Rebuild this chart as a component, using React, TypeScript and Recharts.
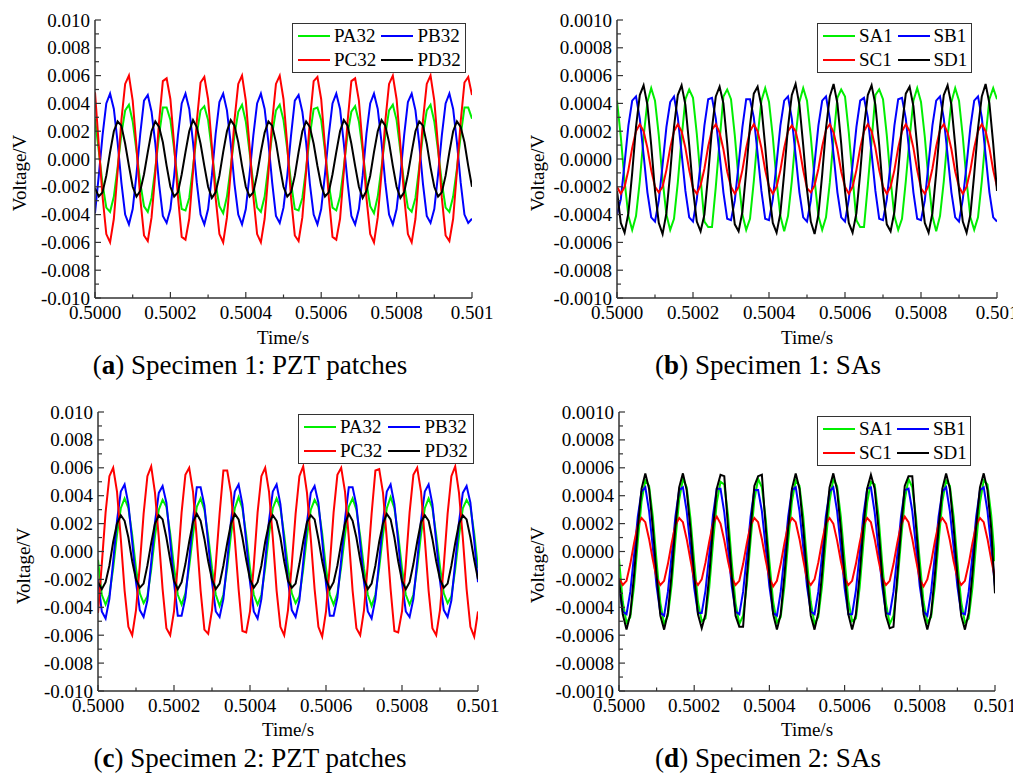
// Four-panel voltage response figure: PZT patches and smart aggregates (SAs)
// for two specimens, 0.5000–0.501 s window. Each panel is its own LineChart;
// axis titles and sub-captions are plain positioned text.

import { Legend, Line, LineChart, XAxis, YAxis } from "recharts";

const FONT = '"Liberation Serif", "Times New Roman", serif';
const AXIS = "#333";

// Sampling of the recorded signals (100 kHz, 101 samples in the window).
const SAMPLE_T0 = 0.5;
const SAMPLE_DT = 0.00001;

// ---- Specimen 1, PZT patches (values in mV) ----
const S1_PA32 = [
  2.9, 0.6, -1.8, -3.5, -3.8, -2.7, -0.6, 1.8, 3.5, 3.9,
  2.7, 0.6, -1.7, -3.4, -3.8, -2.8, -0.7, 1.7, 3.7, 3.7,
  2.8, 0.7, -1.7, -3.6, -3.7, -2.8, -0.6, 1.8, 3.5, 3.8,
  2.8, 0.6, -1.8, -3.4, -3.9, -2.7, -0.6, 1.7, 3.4, 3.9,
  2.7, 0.5, -1.8, -3.5, -3.8, -2.7, -0.5, 1.8, 3.5, 3.9,
  2.8, 0.7, -1.7, -3.6, -3.7, -2.8, -0.7, 1.7, 3.6, 3.7,
  2.8, 0.6, -1.8, -3.5, -3.7, -2.7, -0.6, 1.8, 3.4, 3.8,
  2.7, 0.6, -1.7, -3.4, -3.9, -2.7, -0.6, 1.7, 3.5, 3.9,
  2.8, 0.6, -1.8, -3.5, -3.8, -2.8, -0.6, 1.8, 3.5, 3.9,
  2.7, 0.6, -1.7, -3.5, -3.8, -2.7, -0.7, 1.7, 3.7, 3.7,
  2.9,
];
const S1_PB32 = [
  -3.9, -1.2, 1.7, 4.0, 4.7, 3.6, 1.2, -1.7, -4.0, -4.7,
  -3.6, -1.1, 1.8, 4.2, 4.6, 3.4, 1.1, -1.8, -4.1, -4.6,
  -3.6, -1.2, 1.7, 4.0, 4.7, 3.6, 1.2, -1.7, -4.0, -4.7,
  -3.6, -1.2, 1.8, 4.1, 4.7, 3.5, 1.1, -1.8, -4.0, -4.7,
  -3.6, -1.1, 1.7, 4.0, 4.7, 3.6, 1.2, -1.7, -4.1, -4.6,
  -3.5, -1.2, 1.7, 4.2, 4.6, 3.4, 1.2, -1.8, -4.0, -4.7,
  -3.6, -1.1, 1.7, 4.0, 4.7, 3.6, 1.1, -1.7, -4.1, -4.7,
  -3.6, -1.2, 1.8, 4.0, 4.7, 3.6, 1.2, -1.7, -4.0, -4.7,
  -3.6, -1.2, 1.7, 4.1, 4.7, 3.5, 1.1, -1.8, -4.1, -4.6,
  -3.6, -1.1, 1.7, 4.0, 4.7, 3.6, 1.2, -1.7, -4.0, -4.6,
  -4.3,
];
const S1_PC32 = [
  4.8, 1.0, -2.7, -5.4, -6.0, -4.3, -0.9, 2.8, 5.4, 6.0,
  4.2, 0.9, -2.8, -5.5, -5.9, -4.2, -1.0, 2.7, 5.6, 5.8,
  4.3, 1.0, -2.7, -5.6, -5.8, -4.3, -0.9, 2.7, 5.5, 5.9,
  4.3, 0.9, -2.8, -5.4, -6.0, -4.2, -0.9, 2.8, 5.4, 6.0,
  4.2, 0.9, -2.7, -5.4, -6.0, -4.3, -1.0, 2.7, 5.4, 6.0,
  4.3, 1.0, -2.8, -5.5, -5.9, -4.2, -0.9, 2.8, 5.6, 5.9,
  4.3, 0.9, -2.7, -5.6, -5.8, -4.3, -0.9, 2.7, 5.6, 5.8,
  4.2, 0.9, -2.8, -5.4, -6.0, -4.2, -1.0, 2.7, 5.4, 6.0,
  4.3, 1.0, -2.7, -5.4, -6.0, -4.3, -0.9, 2.8, 5.4, 6.0,
  4.2, 0.9, -2.8, -5.5, -5.9, -4.3, -0.9, 2.7, 5.5, 5.9,
  4.6,
];
const S1_PD32 = [
  -2.1, -2.7, -2.4, -1.2, 0.5, 2.0, 2.7, 2.4, 1.1, -0.5,
  -2.0, -2.7, -2.3, -1.1, 0.5, 2.0, 2.7, 2.3, 1.2, -0.5,
  -2.0, -2.7, -2.4, -1.1, 0.5, 2.0, 2.8, 2.3, 1.1, -0.5,
  -2.0, -2.8, -2.4, -1.2, 0.5, 2.0, 2.8, 2.4, 1.2, -0.5,
  -2.0, -2.7, -2.4, -1.1, 0.5, 1.9, 2.7, 2.4, 1.2, -0.5,
  -2.0, -2.7, -2.4, -1.2, 0.5, 2.0, 2.7, 2.3, 1.1, -0.5,
  -1.9, -2.7, -2.4, -1.1, 0.5, 2.0, 2.8, 2.4, 1.1, -0.5,
  -2.0, -2.8, -2.3, -1.2, 0.5, 2.0, 2.8, 2.4, 1.2, -0.5,
  -2.0, -2.8, -2.4, -1.1, 0.5, 2.0, 2.7, 2.4, 1.1, -0.6,
  -2.0, -2.7, -2.4, -1.2, 0.5, 2.0, 2.7, 2.3, 1.2, -0.5,
  -2.0,
];

// ---- Specimen 1, SAs (mV) ----
const S1_SA1 = [
  0.42, 0.16, -0.16, -0.41, -0.51, -0.41, -0.16, 0.16, 0.41, 0.51,
  0.42, 0.17, -0.15, -0.40, -0.51, -0.43, -0.17, 0.15, 0.43, 0.50,
  0.44, 0.18, -0.14, -0.45, -0.49, -0.49, -0.20, 0.13, 0.45, 0.50,
  0.43, 0.17, -0.15, -0.40, -0.51, -0.43, -0.16, 0.16, 0.42, 0.51,
  0.41, 0.16, -0.16, -0.41, -0.52, -0.41, -0.16, 0.16, 0.41, 0.51,
  0.42, 0.16, -0.15, -0.41, -0.51, -0.42, -0.17, 0.15, 0.44, 0.50,
  0.45, 0.19, -0.13, -0.44, -0.49, -0.49, -0.19, 0.13, 0.46, 0.50,
  0.43, 0.17, -0.15, -0.41, -0.51, -0.43, -0.16, 0.15, 0.42, 0.51,
  0.41, 0.16, -0.16, -0.41, -0.52, -0.41, -0.16, 0.16, 0.41, 0.51,
  0.42, 0.16, -0.16, -0.42, -0.51, -0.42, -0.16, 0.16, 0.43, 0.51,
  0.43,
];
const S1_SB1 = [
  -0.40, -0.29, -0.03, 0.24, 0.42, 0.45, 0.29, 0.03, -0.24, -0.42,
  -0.45, -0.30, -0.04, 0.23, 0.41, 0.45, 0.30, 0.04, -0.23, -0.42,
  -0.45, -0.29, -0.03, 0.24, 0.43, 0.44, 0.29, 0.03, -0.24, -0.43,
  -0.44, -0.30, -0.04, 0.23, 0.43, 0.43, 0.30, 0.04, -0.23, -0.43,
  -0.44, -0.29, -0.03, 0.24, 0.42, 0.45, 0.29, 0.03, -0.24, -0.42,
  -0.45, -0.30, -0.03, 0.24, 0.42, 0.45, 0.29, 0.03, -0.24, -0.42,
  -0.45, -0.29, -0.04, 0.23, 0.42, 0.44, 0.30, 0.04, -0.23, -0.43,
  -0.44, -0.29, -0.03, 0.24, 0.43, 0.44, 0.29, 0.03, -0.24, -0.43,
  -0.44, -0.30, -0.03, 0.24, 0.42, 0.45, 0.29, 0.03, -0.24, -0.42,
  -0.45, -0.29, -0.04, 0.23, 0.42, 0.45, 0.30, 0.03, -0.24, -0.42,
  -0.45,
];
const S1_SC1 = [
  -0.20, -0.25, -0.20, -0.08, 0.08, 0.20, 0.25, 0.20, 0.08, -0.08,
  -0.20, -0.24, -0.20, -0.08, 0.08, 0.20, 0.25, 0.20, 0.08, -0.08,
  -0.21, -0.25, -0.19, -0.07, 0.09, 0.21, 0.25, 0.19, 0.07, -0.09,
  -0.20, -0.25, -0.20, -0.08, 0.08, 0.20, 0.25, 0.20, 0.08, -0.08,
  -0.20, -0.25, -0.20, -0.08, 0.08, 0.20, 0.24, 0.20, 0.08, -0.08,
  -0.21, -0.24, -0.19, -0.07, 0.09, 0.21, 0.25, 0.19, 0.07, -0.09,
  -0.20, -0.25, -0.20, -0.08, 0.08, 0.20, 0.25, 0.20, 0.08, -0.08,
  -0.20, -0.25, -0.20, -0.08, 0.08, 0.20, 0.25, 0.20, 0.08, -0.08,
  -0.21, -0.25, -0.19, -0.07, 0.09, 0.21, 0.25, 0.19, 0.07, -0.09,
  -0.20, -0.25, -0.20, -0.08, 0.08, 0.20, 0.25, 0.20, 0.08, -0.08,
  -0.20,
];
const S1_SD1 = [
  -0.23, -0.46, -0.53, -0.39, -0.10, 0.23, 0.46, 0.53, 0.39, 0.10,
  -0.23, -0.46, -0.54, -0.39, -0.10, 0.23, 0.46, 0.53, 0.39, 0.10,
  -0.22, -0.45, -0.52, -0.40, -0.11, 0.22, 0.45, 0.52, 0.40, 0.11,
  -0.24, -0.47, -0.52, -0.38, -0.09, 0.24, 0.47, 0.52, 0.38, 0.09,
  -0.23, -0.46, -0.53, -0.39, -0.10, 0.23, 0.46, 0.54, 0.39, 0.10,
  -0.22, -0.45, -0.54, -0.40, -0.11, 0.22, 0.45, 0.54, 0.40, 0.11,
  -0.23, -0.46, -0.53, -0.39, -0.10, 0.23, 0.46, 0.53, 0.39, 0.10,
  -0.24, -0.47, -0.52, -0.38, -0.09, 0.24, 0.47, 0.52, 0.38, 0.09,
  -0.23, -0.46, -0.53, -0.39, -0.10, 0.23, 0.46, 0.53, 0.39, 0.10,
  -0.22, -0.45, -0.53, -0.40, -0.11, 0.22, 0.45, 0.54, 0.40, 0.11,
  -0.23,
];

// ---- Specimen 2, PZT patches (mV) ----
const S2_PA32 = [
  -0.6, -3.1, -3.8, -3.1, -1.2, 1.2, 3.1, 3.8, 3.1, 1.2,
  -1.2, -3.0, -3.7, -3.2, -1.3, 1.1, 3.0, 3.7, 3.2, 1.3,
  -1.1, -3.1, -3.8, -3.0, -1.1, 1.2, 3.2, 3.8, 3.0, 1.1,
  -1.2, -3.1, -3.9, -3.1, -1.2, 1.2, 3.1, 3.9, 3.1, 1.2,
  -1.2, -3.1, -3.8, -3.1, -1.2, 1.2, 3.1, 3.8, 3.1, 1.2,
  -1.1, -3.0, -3.7, -3.2, -1.3, 1.1, 3.0, 3.7, 3.2, 1.3,
  -1.2, -3.1, -3.8, -3.0, -1.1, 1.2, 3.2, 3.8, 3.0, 1.1,
  -1.2, -3.1, -3.9, -3.1, -1.2, 1.2, 3.1, 3.9, 3.1, 1.2,
  -1.2, -3.1, -3.8, -3.1, -1.2, 1.2, 3.1, 3.8, 3.1, 1.2,
  -1.1, -3.0, -3.7, -3.2, -1.3, 1.1, 3.1, 3.7, 3.2, 1.3,
  -1.2,
];
const S2_PB32 = [
  -2.0, -4.3, -4.8, -3.4, -0.7, 2.2, 4.3, 4.8, 3.4, 0.7,
  -2.2, -4.2, -4.7, -3.5, -0.8, 2.1, 4.2, 4.7, 3.5, 0.8,
  -2.2, -4.6, -4.6, -3.3, -0.6, 2.3, 4.6, 4.6, 3.3, 0.6,
  -2.2, -4.3, -4.7, -3.4, -0.7, 2.2, 4.3, 4.8, 3.4, 0.7,
  -2.2, -4.3, -4.8, -3.4, -0.7, 2.2, 4.3, 4.8, 3.4, 0.7,
  -2.1, -4.2, -4.7, -3.5, -0.8, 2.1, 4.2, 4.7, 3.5, 0.8,
  -2.3, -4.6, -4.6, -3.3, -0.6, 2.3, 4.6, 4.6, 3.3, 0.6,
  -2.2, -4.3, -4.8, -3.4, -0.7, 2.2, 4.3, 4.8, 3.4, 0.7,
  -2.2, -4.3, -4.7, -3.4, -0.7, 2.2, 4.3, 4.8, 3.4, 0.7,
  -2.1, -4.2, -4.7, -3.5, -0.8, 2.1, 4.2, 4.7, 3.5, 0.8,
  -2.2,
];
const S2_PC32 = [
  -4.4, -0.9, 2.8, 5.4, 6.0, 4.3, 0.9, -2.8, -5.4, -6.0,
  -4.2, -1.0, 2.7, 5.4, 6.1, 4.2, 1.0, -2.7, -5.5, -6.0,
  -4.3, -0.9, 2.8, 5.5, 6.0, 4.3, 0.9, -2.8, -5.6, -5.9,
  -4.2, -0.9, 2.7, 5.8, 5.8, 4.2, 0.9, -2.7, -5.7, -5.8,
  -4.3, -1.0, 2.8, 5.4, 6.0, 4.3, 1.0, -2.8, -5.4, -6.0,
  -4.2, -0.9, 2.7, 5.4, 6.1, 4.2, 0.9, -2.7, -5.4, -6.1,
  -4.3, -1.0, 2.8, 5.5, 6.0, 4.3, 1.0, -2.8, -5.5, -6.0,
  -4.2, -0.9, 2.7, 5.8, 5.9, 4.2, 0.9, -2.7, -5.7, -5.8,
  -4.3, -0.9, 2.8, 5.5, 6.0, 4.3, 0.9, -2.8, -5.5, -6.0,
  -4.2, -1.0, 2.7, 5.4, 6.1, 4.2, 1.0, -2.7, -5.4, -6.1,
  -4.3,
];
const S2_PD32 = [
  -2.2, -2.7, -2.2, -1.0, 0.7, 2.0, 2.6, 2.2, 1.0, -0.7,
  -2.0, -2.6, -2.3, -1.0, 0.6, 2.0, 2.6, 2.3, 1.0, -0.6,
  -2.1, -2.7, -2.2, -0.9, 0.7, 2.1, 2.7, 2.2, 0.9, -0.7,
  -2.0, -2.7, -2.3, -1.0, 0.6, 2.0, 2.7, 2.3, 1.0, -0.6,
  -2.0, -2.6, -2.2, -1.0, 0.7, 2.0, 2.6, 2.2, 1.0, -0.7,
  -2.1, -2.6, -2.3, -0.9, 0.7, 2.1, 2.6, 2.3, 0.9, -0.7,
  -2.0, -2.7, -2.2, -1.0, 0.6, 2.0, 2.7, 2.2, 1.0, -0.6,
  -2.0, -2.7, -2.3, -1.0, 0.7, 2.0, 2.7, 2.3, 1.0, -0.7,
  -2.1, -2.7, -2.2, -0.9, 0.7, 2.1, 2.6, 2.2, 0.9, -0.7,
  -2.0, -2.6, -2.3, -1.0, 0.6, 2.0, 2.6, 2.3, 1.0, -0.6,
  -2.0,
];

// ---- Specimen 2, SAs (mV) ----
const S2_SA1 = [
  -0.05, -0.36, -0.51, -0.47, -0.25, 0.07, 0.36, 0.51, 0.47, 0.25,
  -0.07, -0.37, -0.52, -0.46, -0.24, 0.08, 0.37, 0.52, 0.46, 0.24,
  -0.07, -0.36, -0.50, -0.48, -0.26, 0.06, 0.35, 0.50, 0.48, 0.26,
  -0.08, -0.37, -0.52, -0.46, -0.24, 0.08, 0.37, 0.52, 0.46, 0.24,
  -0.07, -0.36, -0.51, -0.47, -0.25, 0.07, 0.36, 0.51, 0.47, 0.25,
  -0.07, -0.36, -0.52, -0.47, -0.25, 0.07, 0.36, 0.52, 0.47, 0.25,
  -0.06, -0.35, -0.50, -0.48, -0.26, 0.06, 0.35, 0.50, 0.48, 0.26,
  -0.08, -0.37, -0.52, -0.46, -0.24, 0.08, 0.37, 0.52, 0.46, 0.24,
  -0.07, -0.36, -0.51, -0.47, -0.25, 0.07, 0.36, 0.51, 0.47, 0.25,
  -0.07, -0.36, -0.51, -0.48, -0.26, 0.06, 0.35, 0.51, 0.48, 0.26,
  -0.07,
];
const S2_SB1 = [
  -0.25, -0.43, -0.45, -0.29, -0.03, 0.25, 0.43, 0.46, 0.29, 0.03,
  -0.25, -0.44, -0.46, -0.29, -0.03, 0.25, 0.44, 0.46, 0.29, 0.03,
  -0.26, -0.44, -0.44, -0.28, -0.02, 0.26, 0.45, 0.45, 0.28, 0.02,
  -0.25, -0.43, -0.45, -0.29, -0.03, 0.25, 0.44, 0.44, 0.29, 0.03,
  -0.25, -0.44, -0.46, -0.29, -0.03, 0.25, 0.44, 0.46, 0.29, 0.03,
  -0.25, -0.43, -0.45, -0.29, -0.03, 0.25, 0.43, 0.46, 0.29, 0.03,
  -0.26, -0.45, -0.45, -0.28, -0.02, 0.26, 0.45, 0.46, 0.28, 0.02,
  -0.25, -0.44, -0.45, -0.29, -0.03, 0.25, 0.44, 0.45, 0.29, 0.03,
  -0.25, -0.43, -0.46, -0.29, -0.03, 0.25, 0.43, 0.46, 0.29, 0.03,
  -0.25, -0.44, -0.45, -0.29, -0.03, 0.25, 0.44, 0.46, 0.29, 0.03,
  -0.25,
];
const S2_SC1 = [
  -0.19, -0.24, -0.21, -0.09, 0.06, 0.19, 0.24, 0.21, 0.09, -0.06,
  -0.19, -0.24, -0.21, -0.09, 0.06, 0.19, 0.24, 0.21, 0.09, -0.06,
  -0.20, -0.24, -0.20, -0.08, 0.07, 0.20, 0.25, 0.20, 0.08, -0.07,
  -0.19, -0.24, -0.21, -0.09, 0.06, 0.19, 0.24, 0.21, 0.09, -0.06,
  -0.19, -0.25, -0.21, -0.09, 0.06, 0.19, 0.24, 0.21, 0.09, -0.06,
  -0.20, -0.24, -0.20, -0.08, 0.07, 0.20, 0.24, 0.20, 0.08, -0.07,
  -0.19, -0.24, -0.21, -0.09, 0.06, 0.19, 0.24, 0.21, 0.09, -0.06,
  -0.19, -0.24, -0.21, -0.09, 0.06, 0.19, 0.25, 0.21, 0.09, -0.06,
  -0.20, -0.25, -0.20, -0.08, 0.07, 0.20, 0.24, 0.20, 0.08, -0.07,
  -0.19, -0.24, -0.21, -0.09, 0.06, 0.19, 0.24, 0.21, 0.09, -0.06,
  -0.19,
];
const S2_SD1 = [
  -0.20, -0.45, -0.56, -0.45, -0.17, 0.17, 0.45, 0.56, 0.45, 0.17,
  -0.17, -0.46, -0.56, -0.44, -0.16, 0.18, 0.46, 0.56, 0.44, 0.16,
  -0.17, -0.45, -0.55, -0.45, -0.17, 0.17, 0.45, 0.55, 0.54, 0.17,
  -0.18, -0.46, -0.54, -0.54, -0.18, 0.16, 0.47, 0.54, 0.55, 0.18,
  -0.17, -0.45, -0.56, -0.45, -0.17, 0.17, 0.45, 0.56, 0.45, 0.17,
  -0.17, -0.46, -0.56, -0.44, -0.16, 0.18, 0.46, 0.56, 0.44, 0.16,
  -0.17, -0.45, -0.56, -0.45, -0.17, 0.17, 0.45, 0.55, 0.45, 0.17,
  -0.18, -0.46, -0.55, -0.54, -0.18, 0.16, 0.47, 0.54, 0.54, 0.18,
  -0.17, -0.45, -0.56, -0.45, -0.17, 0.17, 0.45, 0.56, 0.45, 0.17,
  -0.17, -0.46, -0.56, -0.44, -0.16, 0.18, 0.46, 0.56, 0.44, 0.16,
  -0.30,
];

// Series names / colours in legend order.
const PZT_NAMES = ["PA32", "PB32", "PC32", "PD32"];
const SA_NAMES = ["SA1", "SB1", "SC1", "SD1"];
const COLORS = ["#00ee00", "#0000ff", "#ff0000", "#000000"];

// Ticks: every tick gets a mark, only the labelled ones get text.
const X_TICKS = [0.5, 0.5001, 0.5002, 0.5003, 0.5004, 0.5005, 0.5006, 0.5007, 0.5008, 0.5009, 0.501];
const X_TICK_LABELS = ["0.5000", "", "0.5002", "", "0.5004", "", "0.5006", "", "0.5008", "", "0.501"];

const Y_TICKS_PZT = [
  -0.01, -0.009, -0.008, -0.007, -0.006, -0.005, -0.004, -0.003, -0.002, -0.001, 0,
  0.001, 0.002, 0.003, 0.004, 0.005, 0.006, 0.007, 0.008, 0.009, 0.01,
];
const Y_LABELS_PZT = [
  "-0.010", "", "-0.008", "", "-0.006", "", "-0.004", "", "-0.002", "", "0.000",
  "", "0.002", "", "0.004", "", "0.006", "", "0.008", "", "0.010",
];
const Y_TICKS_SA = [
  -0.001, -0.0009, -0.0008, -0.0007, -0.0006, -0.0005, -0.0004, -0.0003, -0.0002, -0.0001, 0,
  0.0001, 0.0002, 0.0003, 0.0004, 0.0005, 0.0006, 0.0007, 0.0008, 0.0009, 0.001,
];
const Y_LABELS_SA = [
  "-0.0010", "", "-0.0008", "", "-0.0006", "", "-0.0004", "", "-0.0002", "", "0.0000",
  "", "0.0002", "", "0.0004", "", "0.0006", "", "0.0008", "", "0.0010",
];

type Row = Record<string, number>;

// mV arrays -> rows in volts keyed by series name
function buildRows(names: string[], series: number[][]): Row[] {
  return series[0].map((_, i) => {
    const row: Row = { t: SAMPLE_T0 + i * SAMPLE_DT };
    names.forEach((n, k) => {
      row[n] = series[k][i] / 1000;
    });
    return row;
  });
}

function LeftTick(props: any) {
  const { x, y, index, labels } = props;
  const label = labels[index];
  return (
    <g>
      <line x1={x} x2={x + (label ? 6 : 4)} y1={y} y2={y} stroke={AXIS} strokeWidth={1.2} />
      {label && (
        <text x={x - 5} y={y + 6.5} textAnchor="end" fontFamily={FONT} fontSize={19} fill="#000">
          {label}
        </text>
      )}
    </g>
  );
}

function RightTick(props: any) {
  const { x, y } = props;
  return <line x1={x} x2={x + 4} y1={y} y2={y} stroke={AXIS} strokeWidth={1.2} />;
}

function BottomTick(props: any) {
  const { x, y, index } = props;
  const label = X_TICK_LABELS[index];
  return (
    <g>
      <line x1={x} x2={x} y1={y} y2={y - (label ? 6 : 3.5)} stroke={AXIS} strokeWidth={1.2} />
      {label && (
        <text x={x} y={y + 21} textAnchor="middle" fontFamily={FONT} fontSize={19} fill="#000">
          {label}
        </text>
      )}
    </g>
  );
}

function LegendBox({ payload }: any) {
  return (
    <div
      style={{
        border: `1.5px solid ${AXIS}`,
        background: "#fff",
        display: "grid",
        gridTemplateColumns: "auto auto",
        columnGap: 4,
        padding: "0 3px 0 5px",
        fontFamily: FONT,
        fontSize: 19,
        color: "#000",
        lineHeight: "24px",
      }}
    >
      {(payload ?? []).map((p: any) => (
        <div key={p.value} style={{ display: "flex", alignItems: "center", height: 24 }}>
          <span style={{ width: 32, height: 2, background: p.color, marginRight: 4, flexShrink: 0 }} />
          <span>{p.value}</span>
        </div>
      ))}
    </div>
  );
}

type PanelCfg = {
  left: number;
  top: number;
  width: number;
  yAxisW: number;
  mTop: number;
  mRight: number;
  xAxisH: number;
  names: string[];
  series: number[][];
  yDomain: [number, number];
  yTicks: number[];
  yLabels: string[];
  legend: { left: number; top: number; width: number };
};

const PANELS: PanelCfg[] = [
  {
    left: 0, top: 0, width: 500, yAxisW: 95, mTop: 20, mRight: 28, xAxisH: 47,
    names: PZT_NAMES, series: [S1_PA32, S1_PB32, S1_PC32, S1_PD32],
    yDomain: [-0.01, 0.01], yTicks: Y_TICKS_PZT, yLabels: Y_LABELS_PZT,
    legend: { left: 292, top: 23, width: 174 },
  },
  {
    left: 506, top: 0, width: 507, yAxisW: 111, mTop: 20, mRight: 16, xAxisH: 47,
    names: SA_NAMES, series: [S1_SA1, S1_SB1, S1_SC1, S1_SD1],
    yDomain: [-0.001, 0.001], yTicks: Y_TICKS_SA, yLabels: Y_LABELS_SA,
    legend: { left: 311, top: 23, width: 155 },
  },
  {
    left: 0, top: 390, width: 500, yAxisW: 98, mTop: 22, mRight: 22, xAxisH: 44,
    names: PZT_NAMES, series: [S2_PA32, S2_PB32, S2_PC32, S2_PD32],
    yDomain: [-0.01, 0.01], yTicks: Y_TICKS_PZT, yLabels: Y_LABELS_PZT,
    legend: { left: 298, top: 24, width: 176 },
  },
  {
    left: 506, top: 390, width: 507, yAxisW: 113, mTop: 22, mRight: 18, xAxisH: 44,
    names: SA_NAMES, series: [S2_SA1, S2_SB1, S2_SC1, S2_SD1],
    yDomain: [-0.001, 0.001], yTicks: Y_TICKS_SA, yLabels: Y_LABELS_SA,
    legend: { left: 311, top: 26, width: 154 },
  },
];

// Axis titles and captions, page coordinates of their centres.
const CAPTIONS = [
  { letter: "a", text: " Specimen 1: PZT patches", x: 250, y: 365 },
  { letter: "b", text: " Specimen 1: SAs", x: 768, y: 365 },
  { letter: "c", text: " Specimen 2: PZT patches", x: 250, y: 758 },
  { letter: "d", text: " Specimen 2: SAs", x: 768, y: 758 },
];
const X_TITLES = [
  { x: 283, y: 338 },
  { x: 807, y: 338 },
  { x: 288, y: 730 },
  { x: 807, y: 730 },
];
const Y_TITLES = [
  { x: 20, y: 173 },
  { x: 538, y: 173 },
  { x: 24, y: 566 },
  { x: 538, y: 565 },
];

function Panel({ cfg }: { cfg: PanelCfg }) {
  const rows = buildRows(cfg.names, cfg.series);
  const axisLine = { stroke: AXIS, strokeWidth: 1.5 };
  return (
    <div style={{ position: "absolute", left: cfg.left, top: cfg.top }}>
      <LineChart
        width={cfg.width}
        height={345}
        data={rows}
        margin={{ top: cfg.mTop, right: cfg.mRight, bottom: 0, left: 0 }}
      >
        <XAxis
          dataKey="t"
          type="number"
          domain={[0.5, 0.501]}
          allowDataOverflow
          ticks={X_TICKS}
          interval={0}
          height={cfg.xAxisH}
          tickSize={0}
          tickMargin={0}
          tickLine={false}
          axisLine={axisLine}
          tick={(p: any) => <BottomTick {...p} />}
        />
        <XAxis
          xAxisId="top"
          orientation="top"
          dataKey="t"
          type="number"
          domain={[0.5, 0.501]}
          allowDataOverflow
          height={0}
          tick={false}
          tickLine={false}
          axisLine={axisLine}
        />
        <YAxis
          type="number"
          domain={cfg.yDomain}
          allowDataOverflow
          ticks={cfg.yTicks}
          interval={0}
          width={cfg.yAxisW}
          tickSize={0}
          tickMargin={0}
          tickLine={false}
          axisLine={axisLine}
          tick={(p: any) => <LeftTick {...p} labels={cfg.yLabels} />}
        />
        <YAxis
          yAxisId="right"
          orientation="right"
          type="number"
          domain={cfg.yDomain}
          allowDataOverflow
          ticks={cfg.yTicks}
          interval={0}
          width={0}
          tickSize={0}
          tickMargin={0}
          tickLine={false}
          axisLine={axisLine}
          tick={(p: any) => <RightTick {...p} />}
        />
        {/* centred + middle so the legend reserves no room; placed by wrapperStyle */}
        <Legend
          layout="horizontal"
          verticalAlign="middle"
          align="center"
          wrapperStyle={{ left: cfg.legend.left, top: cfg.legend.top, width: cfg.legend.width }}
          content={(p: any) => <LegendBox {...p} />}
        />
        {cfg.names.map((n, i) => (
          <Line
            key={n}
            dataKey={n}
            name={n}
            type="linear"
            stroke={COLORS[i]}
            strokeWidth={2}
            dot={false}
            activeDot={false}
            isAnimationActive={false}
          />
        ))}
      </LineChart>
    </div>
  );
}

export default function App() {
  const text = { position: "absolute" as const, fontFamily: FONT, color: "#000", whiteSpace: "nowrap" as const };
  return (
    <div style={{ position: "absolute", left: 0, top: 0, width: 1013, height: 774, background: "#fff" }}>
      {PANELS.map((cfg, i) => (
        <Panel key={i} cfg={cfg} />
      ))}
      {X_TITLES.map((p, i) => (
        <div key={`x${i}`} style={{ ...text, left: p.x, top: p.y, fontSize: 19, transform: "translate(-50%, -50%)" }}>
          Time/s
        </div>
      ))}
      {Y_TITLES.map((p, i) => (
        <div
          key={`y${i}`}
          style={{ ...text, left: p.x, top: p.y, fontSize: 19, transform: "translate(-50%, -50%) rotate(-90deg)" }}
        >
          Voltage/V
        </div>
      ))}
      {CAPTIONS.map((c) => (
        <div key={c.letter} style={{ ...text, left: c.x, top: c.y, fontSize: 27, transform: "translate(-50%, -50%)" }}>
          (<b>{c.letter}</b>){c.text}
        </div>
      ))}
    </div>
  );
}
